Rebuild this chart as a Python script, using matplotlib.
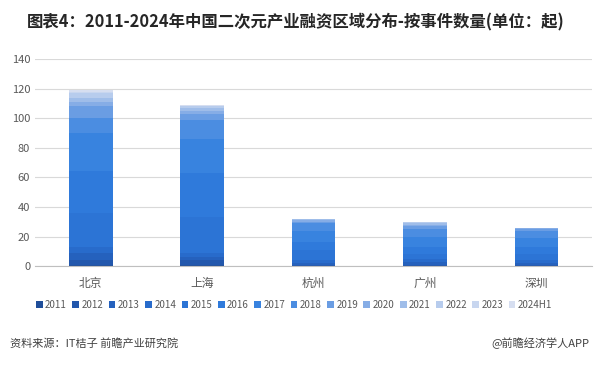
import matplotlib.pyplot as plt
import numpy as np

plt.rcParams['font.family'] = ['Noto Sans CJK SC', 'DejaVu Sans']

cities = ["北京", "上海", "杭州", "广州", "深圳"]
years = ["2011", "2012", "2013", "2014", "2015", "2016", "2017",
         "2018", "2019", "2020", "2021", "2022", "2023", "2024H1"]

# event counts per year, one list per city
beijing = [1, 3, 5, 4, 23, 28, 26, 10, 8, 3, 3, 3, 1, 1]
shanghai = [1, 3, 2, 3, 24, 30, 23, 13, 4, 2, 2, 1, 0, 1]
hangzhou = [0, 1, 1, 2, 7, 5, 8, 5, 1, 1, 1, 0, 0, 0]
guangzhou = [0, 1, 2, 2, 3, 5, 7, 5, 2, 1, 1, 1, 0, 0]
shenzhen = [0, 1, 1, 2, 4, 5, 6, 5, 1, 1, 0, 0, 0, 0]

colors = ["#1f4e9a", "#2257ac", "#2561bd", "#286bcb", "#2c74d5", "#2f7adb",
          "#3883df", "#4b8de1", "#6a9de3", "#86ade6", "#9fbde9", "#b7cced",
          "#c8d6ef", "#d6def0"]

data = np.array([beijing, shanghai, hangzhou, guangzhou, shenzhen])

fig = plt.figure(figsize=(5.95, 3.67), dpi=100)
ax = fig.add_axes([0.059, 0.275, 0.936, 0.564])

x = np.arange(len(cities))
bottom = np.zeros(len(cities))
for i, yr in enumerate(years):
    ax.bar(x, data[:, i], bottom=bottom, width=0.39, color=colors[i], label=yr)
    bottom += data[:, i]

ax.set_ylim(0, 140)
ax.set_yticks(range(0, 141, 20))
ax.set_xlim(-0.5, 4.5)
ax.set_xticks(x)
ax.set_xticklabels(cities)
ax.yaxis.grid(True, color="#d9d9d9", linewidth=0.8)
ax.set_axisbelow(True)
for s in ["top", "right", "left"]:
    ax.spines[s].set_visible(False)
ax.spines["bottom"].set_color("#bfbfbf")
ax.tick_params(axis="both", length=0, labelsize=8, labelcolor="#595959")
ax.tick_params(axis="x", pad=8, labelsize=8.5)

fig.text(0.497, 0.94, "图表4：2011-2024年中国二次元产业融资区域分布-按事件数量(单位：起)",
         ha="center", va="center", fontsize=11.8, fontweight="bold", color="#262626")

ax.legend(loc="upper center", bbox_to_anchor=(0.465, -0.12), ncol=14, frameon=False,
          fontsize=7, handlelength=0.7, handleheight=0.7, handletextpad=0.25,
          columnspacing=0.55, labelcolor="#595959")

fig.text(0.017, 0.065, "资料来源：IT桔子 前瞻产业研究院", ha="left", va="center",
         fontsize=8, color="#404040")
fig.text(0.99, 0.065, "@前瞻经济学人APP", ha="right", va="center",
         fontsize=8, color="#404040")

fig.savefig("out.png", dpi=100)
